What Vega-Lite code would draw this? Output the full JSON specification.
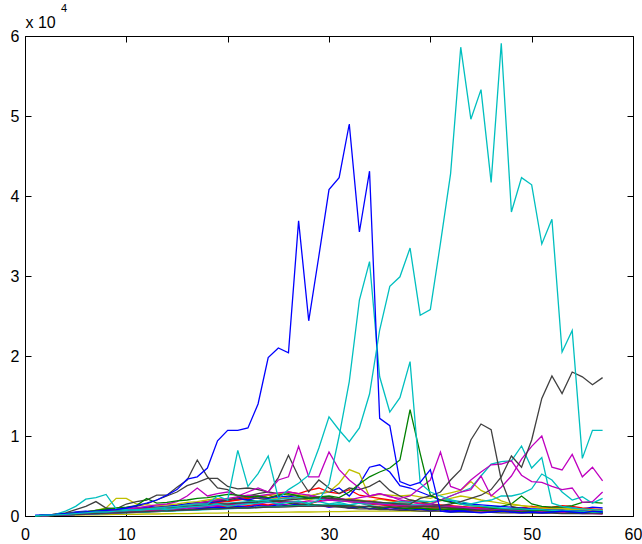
{
"$schema":"https://vega.github.io/schema/vega-lite/v6.json",
"width":608,"height":480,
"autosize":{"type":"none"},
"padding":{"left":25,"top":36,"right":9,"bottom":28},
"background":"white",
"title":{"text":"4","anchor":"start","frame":"group","dx":36,"offset":0,"fontSize":11,"fontWeight":"normal","font":"Liberation Sans","color":"#000"},
"config":{
"view":{"stroke":"#000","strokeWidth":1},
"axis":{"grid":false,"domainColor":"#000","tickColor":"#000","labelColor":"#000","labelFont":"Liberation Sans","labelFontSize":16,"titleFont":"Liberation Sans","domainWidth":1,"tickWidth":1,"labelFlush":false}
},
"data":{"values":[
{"s":"Y3","x":1,"y":0},{"s":"Y3","x":2,"y":50},{"s":"Y3","x":3,"y":80},{"s":"Y3","x":4,"y":100},{"s":"Y3","x":5,"y":120},{"s":"Y3","x":6,"y":150},{"s":"Y3","x":7,"y":150},{"s":"Y3","x":8,"y":180},{"s":"Y3","x":9,"y":200},{"s":"Y3","x":10,"y":200},{"s":"Y3","x":11,"y":220},{"s":"Y3","x":12,"y":250},{"s":"Y3","x":13,"y":250},{"s":"Y3","x":14,"y":280},{"s":"Y3","x":15,"y":300},{"s":"Y3","x":16,"y":300},{"s":"Y3","x":17,"y":320},{"s":"Y3","x":18,"y":350},{"s":"Y3","x":19,"y":350},{"s":"Y3","x":20,"y":380},{"s":"Y3","x":21,"y":400},{"s":"Y3","x":22,"y":400},{"s":"Y3","x":23,"y":420},{"s":"Y3","x":24,"y":450},{"s":"Y3","x":25,"y":450},{"s":"Y3","x":26,"y":480},{"s":"Y3","x":27,"y":500},{"s":"Y3","x":28,"y":500},{"s":"Y3","x":29,"y":520},{"s":"Y3","x":30,"y":550},{"s":"Y3","x":31,"y":550},{"s":"Y3","x":32,"y":580},{"s":"Y3","x":33,"y":600},{"s":"Y3","x":34,"y":600},{"s":"Y3","x":35,"y":600},{"s":"Y3","x":36,"y":620},{"s":"Y3","x":37,"y":600},{"s":"Y3","x":38,"y":620},{"s":"Y3","x":39,"y":600},{"s":"Y3","x":40,"y":600},{"s":"Y3","x":41,"y":580},{"s":"Y3","x":42,"y":600},{"s":"Y3","x":43,"y":580},{"s":"Y3","x":44,"y":560},{"s":"Y3","x":45,"y":550},{"s":"Y3","x":46,"y":550},{"s":"Y3","x":47,"y":520},{"s":"Y3","x":48,"y":500},{"s":"Y3","x":49,"y":500},{"s":"Y3","x":50,"y":480},{"s":"Y3","x":51,"y":460},{"s":"Y3","x":52,"y":450},{"s":"Y3","x":53,"y":440},{"s":"Y3","x":54,"y":420},{"s":"Y3","x":55,"y":400},{"s":"Y3","x":56,"y":400},{"s":"Y3","x":57,"y":380},
{"s":"M4","x":1,"y":0},{"s":"M4","x":2,"y":80},{"s":"M4","x":3,"y":150},{"s":"M4","x":4,"y":200},{"s":"M4","x":5,"y":250},{"s":"M4","x":6,"y":300},{"s":"M4","x":7,"y":350},{"s":"M4","x":8,"y":400},{"s":"M4","x":9,"y":450},{"s":"M4","x":10,"y":500},{"s":"M4","x":11,"y":550},{"s":"M4","x":12,"y":600},{"s":"M4","x":13,"y":650},{"s":"M4","x":14,"y":700},{"s":"M4","x":15,"y":800},{"s":"M4","x":16,"y":900},{"s":"M4","x":17,"y":1100},{"s":"M4","x":18,"y":1000},{"s":"M4","x":19,"y":1200},{"s":"M4","x":20,"y":1100},{"s":"M4","x":21,"y":1300},{"s":"M4","x":22,"y":1200},{"s":"M4","x":23,"y":1400},{"s":"M4","x":24,"y":1300},{"s":"M4","x":25,"y":1500},{"s":"M4","x":26,"y":1400},{"s":"M4","x":27,"y":1300},{"s":"M4","x":28,"y":1200},{"s":"M4","x":29,"y":1300},{"s":"M4","x":30,"y":1100},{"s":"M4","x":31,"y":1200},{"s":"M4","x":32,"y":1000},{"s":"M4","x":33,"y":1100},{"s":"M4","x":34,"y":900},{"s":"M4","x":35,"y":1000},{"s":"M4","x":36,"y":900},{"s":"M4","x":37,"y":800},{"s":"M4","x":38,"y":900},{"s":"M4","x":39,"y":800},{"s":"M4","x":40,"y":700},{"s":"M4","x":41,"y":800},{"s":"M4","x":42,"y":700},{"s":"M4","x":43,"y":600},{"s":"M4","x":44,"y":700},{"s":"M4","x":45,"y":600},{"s":"M4","x":46,"y":500},{"s":"M4","x":47,"y":600},{"s":"M4","x":48,"y":500},{"s":"M4","x":49,"y":400},{"s":"M4","x":50,"y":500},{"s":"M4","x":51,"y":400},{"s":"M4","x":52,"y":400},{"s":"M4","x":53,"y":350},{"s":"M4","x":54,"y":400},{"s":"M4","x":55,"y":300},{"s":"M4","x":56,"y":300},{"s":"M4","x":57,"y":250},
{"s":"C5","x":1,"y":0},{"s":"C5","x":2,"y":60},{"s":"C5","x":3,"y":120},{"s":"C5","x":4,"y":180},{"s":"C5","x":5,"y":250},{"s":"C5","x":6,"y":300},{"s":"C5","x":7,"y":350},{"s":"C5","x":8,"y":450},{"s":"C5","x":9,"y":500},{"s":"C5","x":10,"y":600},{"s":"C5","x":11,"y":650},{"s":"C5","x":12,"y":700},{"s":"C5","x":13,"y":800},{"s":"C5","x":14,"y":900},{"s":"C5","x":15,"y":1000},{"s":"C5","x":16,"y":1100},{"s":"C5","x":17,"y":1000},{"s":"C5","x":18,"y":1200},{"s":"C5","x":19,"y":1400},{"s":"C5","x":20,"y":1300},{"s":"C5","x":21,"y":1500},{"s":"C5","x":22,"y":1700},{"s":"C5","x":23,"y":1600},{"s":"C5","x":24,"y":1800},{"s":"C5","x":25,"y":2000},{"s":"C5","x":26,"y":1700},{"s":"C5","x":27,"y":1900},{"s":"C5","x":28,"y":1600},{"s":"C5","x":29,"y":1800},{"s":"C5","x":30,"y":1500},{"s":"C5","x":31,"y":1700},{"s":"C5","x":32,"y":1400},{"s":"C5","x":33,"y":1600},{"s":"C5","x":34,"y":1300},{"s":"C5","x":35,"y":1500},{"s":"C5","x":36,"y":1200},{"s":"C5","x":37,"y":1400},{"s":"C5","x":38,"y":1100},{"s":"C5","x":39,"y":1300},{"s":"C5","x":40,"y":1000},{"s":"C5","x":41,"y":1200},{"s":"C5","x":42,"y":1000},{"s":"C5","x":43,"y":1100},{"s":"C5","x":44,"y":900},{"s":"C5","x":45,"y":1000},{"s":"C5","x":46,"y":800},{"s":"C5","x":47,"y":900},{"s":"C5","x":48,"y":700},{"s":"C5","x":49,"y":800},{"s":"C5","x":50,"y":700},{"s":"C5","x":51,"y":600},{"s":"C5","x":52,"y":700},{"s":"C5","x":53,"y":600},{"s":"C5","x":54,"y":500},{"s":"C5","x":55,"y":600},{"s":"C5","x":56,"y":500},{"s":"C5","x":57,"y":500},
{"s":"R3","x":1,"y":0},{"s":"R3","x":2,"y":40},{"s":"R3","x":3,"y":80},{"s":"R3","x":4,"y":120},{"s":"R3","x":5,"y":160},{"s":"R3","x":6,"y":200},{"s":"R3","x":7,"y":250},{"s":"R3","x":8,"y":300},{"s":"R3","x":9,"y":350},{"s":"R3","x":10,"y":400},{"s":"R3","x":11,"y":450},{"s":"R3","x":12,"y":500},{"s":"R3","x":13,"y":550},{"s":"R3","x":14,"y":600},{"s":"R3","x":15,"y":700},{"s":"R3","x":16,"y":800},{"s":"R3","x":17,"y":900},{"s":"R3","x":18,"y":1000},{"s":"R3","x":19,"y":1100},{"s":"R3","x":20,"y":1200},{"s":"R3","x":21,"y":1100},{"s":"R3","x":22,"y":1300},{"s":"R3","x":23,"y":1500},{"s":"R3","x":24,"y":1400},{"s":"R3","x":25,"y":1600},{"s":"R3","x":26,"y":1800},{"s":"R3","x":27,"y":1700},{"s":"R3","x":28,"y":1500},{"s":"R3","x":29,"y":1900},{"s":"R3","x":30,"y":2200},{"s":"R3","x":31,"y":2000},{"s":"R3","x":32,"y":1800},{"s":"R3","x":33,"y":1600},{"s":"R3","x":34,"y":1500},{"s":"R3","x":35,"y":1400},{"s":"R3","x":36,"y":1300},{"s":"R3","x":37,"y":1200},{"s":"R3","x":38,"y":1100},{"s":"R3","x":39,"y":1000},{"s":"R3","x":40,"y":900},{"s":"R3","x":41,"y":900},{"s":"R3","x":42,"y":800},{"s":"R3","x":43,"y":800},{"s":"R3","x":44,"y":700},{"s":"R3","x":45,"y":700},{"s":"R3","x":46,"y":650},{"s":"R3","x":47,"y":600},{"s":"R3","x":48,"y":600},{"s":"R3","x":49,"y":550},{"s":"R3","x":50,"y":500},{"s":"R3","x":51,"y":500},{"s":"R3","x":52,"y":450},{"s":"R3","x":53,"y":450},{"s":"R3","x":54,"y":400},{"s":"R3","x":55,"y":400},{"s":"R3","x":56,"y":350},{"s":"R3","x":57,"y":350},
{"s":"G3","x":1,"y":0},{"s":"G3","x":2,"y":50},{"s":"G3","x":3,"y":100},{"s":"G3","x":4,"y":150},{"s":"G3","x":5,"y":200},{"s":"G3","x":6,"y":300},{"s":"G3","x":7,"y":350},{"s":"G3","x":8,"y":450},{"s":"G3","x":9,"y":500},{"s":"G3","x":10,"y":700},{"s":"G3","x":11,"y":800},{"s":"G3","x":12,"y":900},{"s":"G3","x":13,"y":1000},{"s":"G3","x":14,"y":1200},{"s":"G3","x":15,"y":1300},{"s":"G3","x":16,"y":1500},{"s":"G3","x":17,"y":1600},{"s":"G3","x":18,"y":1800},{"s":"G3","x":19,"y":2000},{"s":"G3","x":20,"y":1900},{"s":"G3","x":21,"y":2100},{"s":"G3","x":22,"y":2000},{"s":"G3","x":23,"y":1800},{"s":"G3","x":24,"y":1700},{"s":"G3","x":25,"y":1900},{"s":"G3","x":26,"y":1600},{"s":"G3","x":27,"y":1400},{"s":"G3","x":28,"y":1500},{"s":"G3","x":29,"y":1300},{"s":"G3","x":30,"y":1400},{"s":"G3","x":31,"y":1200},{"s":"G3","x":32,"y":1300},{"s":"G3","x":33,"y":1100},{"s":"G3","x":34,"y":1200},{"s":"G3","x":35,"y":1000},{"s":"G3","x":36,"y":1100},{"s":"G3","x":37,"y":900},{"s":"G3","x":38,"y":1000},{"s":"G3","x":39,"y":900},{"s":"G3","x":40,"y":800},{"s":"G3","x":41,"y":900},{"s":"G3","x":42,"y":800},{"s":"G3","x":43,"y":700},{"s":"G3","x":44,"y":800},{"s":"G3","x":45,"y":700},{"s":"G3","x":46,"y":600},{"s":"G3","x":47,"y":700},{"s":"G3","x":48,"y":600},{"s":"G3","x":49,"y":500},{"s":"G3","x":50,"y":600},{"s":"G3","x":51,"y":500},{"s":"G3","x":52,"y":500},{"s":"G3","x":53,"y":400},{"s":"G3","x":54,"y":500},{"s":"G3","x":55,"y":400},{"s":"G3","x":56,"y":400},{"s":"G3","x":57,"y":350},
{"s":"B3","x":1,"y":0},{"s":"B3","x":2,"y":50},{"s":"B3","x":3,"y":100},{"s":"B3","x":4,"y":150},{"s":"B3","x":5,"y":200},{"s":"B3","x":6,"y":250},{"s":"B3","x":7,"y":300},{"s":"B3","x":8,"y":350},{"s":"B3","x":9,"y":400},{"s":"B3","x":10,"y":450},{"s":"B3","x":11,"y":500},{"s":"B3","x":12,"y":550},{"s":"B3","x":13,"y":600},{"s":"B3","x":14,"y":650},{"s":"B3","x":15,"y":700},{"s":"B3","x":16,"y":800},{"s":"B3","x":17,"y":900},{"s":"B3","x":18,"y":1000},{"s":"B3","x":19,"y":1100},{"s":"B3","x":20,"y":1000},{"s":"B3","x":21,"y":1200},{"s":"B3","x":22,"y":1100},{"s":"B3","x":23,"y":1300},{"s":"B3","x":24,"y":1200},{"s":"B3","x":25,"y":1400},{"s":"B3","x":26,"y":1300},{"s":"B3","x":27,"y":1500},{"s":"B3","x":28,"y":1200},{"s":"B3","x":29,"y":1400},{"s":"B3","x":30,"y":1100},{"s":"B3","x":31,"y":1300},{"s":"B3","x":32,"y":1000},{"s":"B3","x":33,"y":1200},{"s":"B3","x":34,"y":900},{"s":"B3","x":35,"y":1100},{"s":"B3","x":36,"y":800},{"s":"B3","x":37,"y":1000},{"s":"B3","x":38,"y":700},{"s":"B3","x":39,"y":900},{"s":"B3","x":40,"y":600},{"s":"B3","x":41,"y":800},{"s":"B3","x":42,"y":600},{"s":"B3","x":43,"y":700},{"s":"B3","x":44,"y":800},{"s":"B3","x":45,"y":900},{"s":"B3","x":46,"y":1000},{"s":"B3","x":47,"y":900},{"s":"B3","x":48,"y":800},{"s":"B3","x":49,"y":700},{"s":"B3","x":50,"y":800},{"s":"B3","x":51,"y":700},{"s":"B3","x":52,"y":900},{"s":"B3","x":53,"y":1100},{"s":"B3","x":54,"y":1000},{"s":"B3","x":55,"y":900},{"s":"B3","x":56,"y":1100},{"s":"B3","x":57,"y":1000},
{"s":"Y2","x":1,"y":0},{"s":"Y2","x":2,"y":50},{"s":"Y2","x":3,"y":100},{"s":"Y2","x":4,"y":150},{"s":"Y2","x":5,"y":200},{"s":"Y2","x":6,"y":300},{"s":"Y2","x":7,"y":400},{"s":"Y2","x":8,"y":500},{"s":"Y2","x":9,"y":600},{"s":"Y2","x":10,"y":700},{"s":"Y2","x":11,"y":800},{"s":"Y2","x":12,"y":900},{"s":"Y2","x":13,"y":1000},{"s":"Y2","x":14,"y":1100},{"s":"Y2","x":15,"y":1200},{"s":"Y2","x":16,"y":1400},{"s":"Y2","x":17,"y":1500},{"s":"Y2","x":18,"y":1700},{"s":"Y2","x":19,"y":1900},{"s":"Y2","x":20,"y":2100},{"s":"Y2","x":21,"y":2000},{"s":"Y2","x":22,"y":2200},{"s":"Y2","x":23,"y":2500},{"s":"Y2","x":24,"y":2300},{"s":"Y2","x":25,"y":2100},{"s":"Y2","x":26,"y":2400},{"s":"Y2","x":27,"y":2200},{"s":"Y2","x":28,"y":2000},{"s":"Y2","x":29,"y":2300},{"s":"Y2","x":30,"y":2100},{"s":"Y2","x":31,"y":1900},{"s":"Y2","x":32,"y":2200},{"s":"Y2","x":33,"y":2000},{"s":"Y2","x":34,"y":1800},{"s":"Y2","x":35,"y":2100},{"s":"Y2","x":36,"y":1900},{"s":"Y2","x":37,"y":1700},{"s":"Y2","x":38,"y":2000},{"s":"Y2","x":39,"y":1800},{"s":"Y2","x":40,"y":1600},{"s":"Y2","x":41,"y":1900},{"s":"Y2","x":42,"y":2200},{"s":"Y2","x":43,"y":2500},{"s":"Y2","x":44,"y":2300},{"s":"Y2","x":45,"y":2000},{"s":"Y2","x":46,"y":1800},{"s":"Y2","x":47,"y":1600},{"s":"Y2","x":48,"y":1400},{"s":"Y2","x":49,"y":1300},{"s":"Y2","x":50,"y":1200},{"s":"Y2","x":51,"y":1100},{"s":"Y2","x":52,"y":1000},{"s":"Y2","x":53,"y":1000},{"s":"Y2","x":54,"y":900},{"s":"Y2","x":55,"y":900},{"s":"Y2","x":56,"y":800},{"s":"Y2","x":57,"y":800},
{"s":"R2","x":1,"y":0},{"s":"R2","x":2,"y":50},{"s":"R2","x":3,"y":100},{"s":"R2","x":4,"y":150},{"s":"R2","x":5,"y":200},{"s":"R2","x":6,"y":250},{"s":"R2","x":7,"y":300},{"s":"R2","x":8,"y":350},{"s":"R2","x":9,"y":400},{"s":"R2","x":10,"y":500},{"s":"R2","x":11,"y":600},{"s":"R2","x":12,"y":700},{"s":"R2","x":13,"y":800},{"s":"R2","x":14,"y":900},{"s":"R2","x":15,"y":1000},{"s":"R2","x":16,"y":1100},{"s":"R2","x":17,"y":1300},{"s":"R2","x":18,"y":1500},{"s":"R2","x":19,"y":1700},{"s":"R2","x":20,"y":1900},{"s":"R2","x":21,"y":2100},{"s":"R2","x":22,"y":2400},{"s":"R2","x":23,"y":2200},{"s":"R2","x":24,"y":2600},{"s":"R2","x":25,"y":2300},{"s":"R2","x":26,"y":2100},{"s":"R2","x":27,"y":2400},{"s":"R2","x":28,"y":2600},{"s":"R2","x":29,"y":2300},{"s":"R2","x":30,"y":2000},{"s":"R2","x":31,"y":2200},{"s":"R2","x":32,"y":1900},{"s":"R2","x":33,"y":1700},{"s":"R2","x":34,"y":1900},{"s":"R2","x":35,"y":1600},{"s":"R2","x":36,"y":1500},{"s":"R2","x":37,"y":1400},{"s":"R2","x":38,"y":1300},{"s":"R2","x":39,"y":1200},{"s":"R2","x":40,"y":1100},{"s":"R2","x":41,"y":1100},{"s":"R2","x":42,"y":1000},{"s":"R2","x":43,"y":1000},{"s":"R2","x":44,"y":900},{"s":"R2","x":45,"y":900},{"s":"R2","x":46,"y":800},{"s":"R2","x":47,"y":800},{"s":"R2","x":48,"y":900},{"s":"R2","x":49,"y":1000},{"s":"R2","x":50,"y":1200},{"s":"R2","x":51,"y":1000},{"s":"R2","x":52,"y":1100},{"s":"R2","x":53,"y":1300},{"s":"R2","x":54,"y":1200},{"s":"R2","x":55,"y":1000},{"s":"R2","x":56,"y":900},{"s":"R2","x":57,"y":800},
{"s":"K3","x":1,"y":0},{"s":"K3","x":2,"y":100},{"s":"K3","x":3,"y":200},{"s":"K3","x":4,"y":300},{"s":"K3","x":5,"y":400},{"s":"K3","x":6,"y":500},{"s":"K3","x":7,"y":700},{"s":"K3","x":8,"y":800},{"s":"K3","x":9,"y":900},{"s":"K3","x":10,"y":1000},{"s":"K3","x":11,"y":1200},{"s":"K3","x":12,"y":1500},{"s":"K3","x":13,"y":2000},{"s":"K3","x":14,"y":2500},{"s":"K3","x":15,"y":3000},{"s":"K3","x":16,"y":3800},{"s":"K3","x":17,"y":4200},{"s":"K3","x":18,"y":4700},{"s":"K3","x":19,"y":4700},{"s":"K3","x":20,"y":3700},{"s":"K3","x":21,"y":3400},{"s":"K3","x":22,"y":3500},{"s":"K3","x":23,"y":3300},{"s":"K3","x":24,"y":3000},{"s":"K3","x":25,"y":2800},{"s":"K3","x":26,"y":2600},{"s":"K3","x":27,"y":2500},{"s":"K3","x":28,"y":2300},{"s":"K3","x":29,"y":2200},{"s":"K3","x":30,"y":2400},{"s":"K3","x":31,"y":2100},{"s":"K3","x":32,"y":2000},{"s":"K3","x":33,"y":1900},{"s":"K3","x":34,"y":1800},{"s":"K3","x":35,"y":1700},{"s":"K3","x":36,"y":1600},{"s":"K3","x":37,"y":1500},{"s":"K3","x":38,"y":1400},{"s":"K3","x":39,"y":1300},{"s":"K3","x":40,"y":1200},{"s":"K3","x":41,"y":1100},{"s":"K3","x":42,"y":1000},{"s":"K3","x":43,"y":950},{"s":"K3","x":44,"y":900},{"s":"K3","x":45,"y":850},{"s":"K3","x":46,"y":800},{"s":"K3","x":47,"y":750},{"s":"K3","x":48,"y":700},{"s":"K3","x":49,"y":650},{"s":"K3","x":50,"y":600},{"s":"K3","x":51,"y":600},{"s":"K3","x":52,"y":550},{"s":"K3","x":53,"y":500},{"s":"K3","x":54,"y":500},{"s":"K3","x":55,"y":450},{"s":"K3","x":56,"y":450},{"s":"K3","x":57,"y":400},
{"s":"G2","x":1,"y":0},{"s":"G2","x":2,"y":50},{"s":"G2","x":3,"y":100},{"s":"G2","x":4,"y":150},{"s":"G2","x":5,"y":200},{"s":"G2","x":6,"y":250},{"s":"G2","x":7,"y":300},{"s":"G2","x":8,"y":350},{"s":"G2","x":9,"y":400},{"s":"G2","x":10,"y":450},{"s":"G2","x":11,"y":500},{"s":"G2","x":12,"y":550},{"s":"G2","x":13,"y":600},{"s":"G2","x":14,"y":650},{"s":"G2","x":15,"y":700},{"s":"G2","x":16,"y":750},{"s":"G2","x":17,"y":800},{"s":"G2","x":18,"y":850},{"s":"G2","x":19,"y":900},{"s":"G2","x":20,"y":950},{"s":"G2","x":21,"y":1000},{"s":"G2","x":22,"y":1050},{"s":"G2","x":23,"y":1100},{"s":"G2","x":24,"y":1150},{"s":"G2","x":25,"y":1200},{"s":"G2","x":26,"y":1250},{"s":"G2","x":27,"y":1300},{"s":"G2","x":28,"y":1350},{"s":"G2","x":29,"y":1400},{"s":"G2","x":30,"y":1300},{"s":"G2","x":31,"y":1200},{"s":"G2","x":32,"y":1300},{"s":"G2","x":33,"y":1100},{"s":"G2","x":34,"y":1200},{"s":"G2","x":35,"y":1000},{"s":"G2","x":36,"y":1100},{"s":"G2","x":37,"y":1000},{"s":"G2","x":38,"y":900},{"s":"G2","x":39,"y":1000},{"s":"G2","x":40,"y":900},{"s":"G2","x":41,"y":800},{"s":"G2","x":42,"y":900},{"s":"G2","x":43,"y":800},{"s":"G2","x":44,"y":900},{"s":"G2","x":45,"y":1000},{"s":"G2","x":46,"y":1100},{"s":"G2","x":47,"y":1200},{"s":"G2","x":48,"y":1500},{"s":"G2","x":49,"y":2500},{"s":"G2","x":50,"y":1500},{"s":"G2","x":51,"y":1200},{"s":"G2","x":52,"y":1100},{"s":"G2","x":53,"y":1100},{"s":"G2","x":54,"y":1300},{"s":"G2","x":55,"y":1700},{"s":"G2","x":56,"y":1700},{"s":"G2","x":57,"y":1600},
{"s":"R1","x":1,"y":0},{"s":"R1","x":2,"y":50},{"s":"R1","x":3,"y":100},{"s":"R1","x":4,"y":200},{"s":"R1","x":5,"y":300},{"s":"R1","x":6,"y":400},{"s":"R1","x":7,"y":500},{"s":"R1","x":8,"y":600},{"s":"R1","x":9,"y":700},{"s":"R1","x":10,"y":800},{"s":"R1","x":11,"y":900},{"s":"R1","x":12,"y":1000},{"s":"R1","x":13,"y":1100},{"s":"R1","x":14,"y":1200},{"s":"R1","x":15,"y":1300},{"s":"R1","x":16,"y":1400},{"s":"R1","x":17,"y":1500},{"s":"R1","x":18,"y":1600},{"s":"R1","x":19,"y":1700},{"s":"R1","x":20,"y":1800},{"s":"R1","x":21,"y":2000},{"s":"R1","x":22,"y":2200},{"s":"R1","x":23,"y":2400},{"s":"R1","x":24,"y":2200},{"s":"R1","x":25,"y":2600},{"s":"R1","x":26,"y":3000},{"s":"R1","x":27,"y":2800},{"s":"R1","x":28,"y":3200},{"s":"R1","x":29,"y":3500},{"s":"R1","x":30,"y":3000},{"s":"R1","x":31,"y":2800},{"s":"R1","x":32,"y":3300},{"s":"R1","x":33,"y":2600},{"s":"R1","x":34,"y":2400},{"s":"R1","x":35,"y":2200},{"s":"R1","x":36,"y":2000},{"s":"R1","x":37,"y":1800},{"s":"R1","x":38,"y":1700},{"s":"R1","x":39,"y":1600},{"s":"R1","x":40,"y":1500},{"s":"R1","x":41,"y":1400},{"s":"R1","x":42,"y":1300},{"s":"R1","x":43,"y":1200},{"s":"R1","x":44,"y":1100},{"s":"R1","x":45,"y":1000},{"s":"R1","x":46,"y":1000},{"s":"R1","x":47,"y":900},{"s":"R1","x":48,"y":900},{"s":"R1","x":49,"y":800},{"s":"R1","x":50,"y":800},{"s":"R1","x":51,"y":700},{"s":"R1","x":52,"y":700},{"s":"R1","x":53,"y":700},{"s":"R1","x":54,"y":600},{"s":"R1","x":55,"y":600},{"s":"R1","x":56,"y":600},{"s":"R1","x":57,"y":500},
{"s":"B2","x":1,"y":0},{"s":"B2","x":2,"y":100},{"s":"B2","x":3,"y":200},{"s":"B2","x":4,"y":300},{"s":"B2","x":5,"y":500},{"s":"B2","x":6,"y":600},{"s":"B2","x":7,"y":500},{"s":"B2","x":8,"y":700},{"s":"B2","x":9,"y":800},{"s":"B2","x":10,"y":900},{"s":"B2","x":11,"y":1000},{"s":"B2","x":12,"y":1100},{"s":"B2","x":13,"y":1300},{"s":"B2","x":14,"y":1200},{"s":"B2","x":15,"y":1400},{"s":"B2","x":16,"y":1500},{"s":"B2","x":17,"y":1700},{"s":"B2","x":18,"y":1600},{"s":"B2","x":19,"y":1800},{"s":"B2","x":20,"y":2000},{"s":"B2","x":21,"y":2200},{"s":"B2","x":22,"y":2000},{"s":"B2","x":23,"y":2300},{"s":"B2","x":24,"y":2200},{"s":"B2","x":25,"y":2500},{"s":"B2","x":26,"y":2400},{"s":"B2","x":27,"y":2600},{"s":"B2","x":28,"y":2400},{"s":"B2","x":29,"y":2800},{"s":"B2","x":30,"y":3000},{"s":"B2","x":31,"y":3500},{"s":"B2","x":32,"y":2500},{"s":"B2","x":33,"y":4000},{"s":"B2","x":34,"y":6100},{"s":"B2","x":35,"y":6400},{"s":"B2","x":36,"y":5500},{"s":"B2","x":37,"y":3800},{"s":"B2","x":38,"y":3500},{"s":"B2","x":39,"y":3000},{"s":"B2","x":40,"y":2500},{"s":"B2","x":41,"y":2000},{"s":"B2","x":42,"y":1800},{"s":"B2","x":43,"y":1600},{"s":"B2","x":44,"y":1500},{"s":"B2","x":45,"y":1400},{"s":"B2","x":46,"y":1300},{"s":"B2","x":47,"y":1200},{"s":"B2","x":48,"y":1100},{"s":"B2","x":49,"y":1000},{"s":"B2","x":50,"y":900},{"s":"B2","x":51,"y":900},{"s":"B2","x":52,"y":800},{"s":"B2","x":53,"y":800},{"s":"B2","x":54,"y":700},{"s":"B2","x":55,"y":700},{"s":"B2","x":56,"y":600},{"s":"B2","x":57,"y":600},
{"s":"Y1","x":1,"y":0},{"s":"Y1","x":2,"y":100},{"s":"Y1","x":3,"y":200},{"s":"Y1","x":4,"y":300},{"s":"Y1","x":5,"y":400},{"s":"Y1","x":6,"y":500},{"s":"Y1","x":7,"y":700},{"s":"Y1","x":8,"y":1000},{"s":"Y1","x":9,"y":2200},{"s":"Y1","x":10,"y":2200},{"s":"Y1","x":11,"y":1500},{"s":"Y1","x":12,"y":1400},{"s":"Y1","x":13,"y":1300},{"s":"Y1","x":14,"y":1400},{"s":"Y1","x":15,"y":1500},{"s":"Y1","x":16,"y":1700},{"s":"Y1","x":17,"y":1800},{"s":"Y1","x":18,"y":2000},{"s":"Y1","x":19,"y":2200},{"s":"Y1","x":20,"y":2000},{"s":"Y1","x":21,"y":2300},{"s":"Y1","x":22,"y":2500},{"s":"Y1","x":23,"y":2400},{"s":"Y1","x":24,"y":2600},{"s":"Y1","x":25,"y":2800},{"s":"Y1","x":26,"y":2700},{"s":"Y1","x":27,"y":2600},{"s":"Y1","x":28,"y":2500},{"s":"Y1","x":29,"y":2800},{"s":"Y1","x":30,"y":3000},{"s":"Y1","x":31,"y":4100},{"s":"Y1","x":32,"y":5800},{"s":"Y1","x":33,"y":5300},{"s":"Y1","x":34,"y":2400},{"s":"Y1","x":35,"y":2700},{"s":"Y1","x":36,"y":2600},{"s":"Y1","x":37,"y":2500},{"s":"Y1","x":38,"y":2600},{"s":"Y1","x":39,"y":2400},{"s":"Y1","x":40,"y":2200},{"s":"Y1","x":41,"y":2600},{"s":"Y1","x":42,"y":2900},{"s":"Y1","x":43,"y":3200},{"s":"Y1","x":44,"y":4300},{"s":"Y1","x":45,"y":3200},{"s":"Y1","x":46,"y":2600},{"s":"Y1","x":47,"y":1900},{"s":"Y1","x":48,"y":1500},{"s":"Y1","x":49,"y":1300},{"s":"Y1","x":50,"y":1100},{"s":"Y1","x":51,"y":1000},{"s":"Y1","x":52,"y":900},{"s":"Y1","x":53,"y":900},{"s":"Y1","x":54,"y":800},{"s":"Y1","x":55,"y":800},{"s":"Y1","x":56,"y":700},{"s":"Y1","x":57,"y":700},
{"s":"K4","x":1,"y":0},{"s":"K4","x":2,"y":60},{"s":"K4","x":3,"y":120},{"s":"K4","x":4,"y":180},{"s":"K4","x":5,"y":240},{"s":"K4","x":6,"y":300},{"s":"K4","x":7,"y":400},{"s":"K4","x":8,"y":500},{"s":"K4","x":9,"y":600},{"s":"K4","x":10,"y":700},{"s":"K4","x":11,"y":800},{"s":"K4","x":12,"y":900},{"s":"K4","x":13,"y":1000},{"s":"K4","x":14,"y":1100},{"s":"K4","x":15,"y":1200},{"s":"K4","x":16,"y":1400},{"s":"K4","x":17,"y":1600},{"s":"K4","x":18,"y":1800},{"s":"K4","x":19,"y":1900},{"s":"K4","x":20,"y":2000},{"s":"K4","x":21,"y":2300},{"s":"K4","x":22,"y":2500},{"s":"K4","x":23,"y":2800},{"s":"K4","x":24,"y":3000},{"s":"K4","x":25,"y":4800},{"s":"K4","x":26,"y":7600},{"s":"K4","x":27,"y":4900},{"s":"K4","x":28,"y":3000},{"s":"K4","x":29,"y":4500},{"s":"K4","x":30,"y":3500},{"s":"K4","x":31,"y":2800},{"s":"K4","x":32,"y":3500},{"s":"K4","x":33,"y":3300},{"s":"K4","x":34,"y":3700},{"s":"K4","x":35,"y":4400},{"s":"K4","x":36,"y":3200},{"s":"K4","x":37,"y":2500},{"s":"K4","x":38,"y":2000},{"s":"K4","x":39,"y":1800},{"s":"K4","x":40,"y":1500},{"s":"K4","x":41,"y":1300},{"s":"K4","x":42,"y":1200},{"s":"K4","x":43,"y":1100},{"s":"K4","x":44,"y":1000},{"s":"K4","x":45,"y":900},{"s":"K4","x":46,"y":900},{"s":"K4","x":47,"y":800},{"s":"K4","x":48,"y":800},{"s":"K4","x":49,"y":700},{"s":"K4","x":50,"y":700},{"s":"K4","x":51,"y":600},{"s":"K4","x":52,"y":600},{"s":"K4","x":53,"y":500},{"s":"K4","x":54,"y":500},{"s":"K4","x":55,"y":500},{"s":"K4","x":56,"y":400},{"s":"K4","x":57,"y":400},
{"s":"K2","x":1,"y":0},{"s":"K2","x":2,"y":100},{"s":"K2","x":3,"y":200},{"s":"K2","x":4,"y":400},{"s":"K2","x":5,"y":800},{"s":"K2","x":6,"y":1200},{"s":"K2","x":7,"y":1800},{"s":"K2","x":8,"y":1000},{"s":"K2","x":9,"y":900},{"s":"K2","x":10,"y":1500},{"s":"K2","x":11,"y":1800},{"s":"K2","x":12,"y":2000},{"s":"K2","x":13,"y":2600},{"s":"K2","x":14,"y":2600},{"s":"K2","x":15,"y":3600},{"s":"K2","x":16,"y":4500},{"s":"K2","x":17,"y":7000},{"s":"K2","x":18,"y":4900},{"s":"K2","x":19,"y":3500},{"s":"K2","x":20,"y":3300},{"s":"K2","x":21,"y":2500},{"s":"K2","x":22,"y":2400},{"s":"K2","x":23,"y":2200},{"s":"K2","x":24,"y":2000},{"s":"K2","x":25,"y":1800},{"s":"K2","x":26,"y":1700},{"s":"K2","x":27,"y":1500},{"s":"K2","x":28,"y":1400},{"s":"K2","x":29,"y":1300},{"s":"K2","x":30,"y":1200},{"s":"K2","x":31,"y":1100},{"s":"K2","x":32,"y":1000},{"s":"K2","x":33,"y":900},{"s":"K2","x":34,"y":900},{"s":"K2","x":35,"y":800},{"s":"K2","x":36,"y":800},{"s":"K2","x":37,"y":700},{"s":"K2","x":38,"y":700},{"s":"K2","x":39,"y":600},{"s":"K2","x":40,"y":600},{"s":"K2","x":41,"y":600},{"s":"K2","x":42,"y":500},{"s":"K2","x":43,"y":500},{"s":"K2","x":44,"y":500},{"s":"K2","x":45,"y":450},{"s":"K2","x":46,"y":450},{"s":"K2","x":47,"y":400},{"s":"K2","x":48,"y":400},{"s":"K2","x":49,"y":400},{"s":"K2","x":50,"y":350},{"s":"K2","x":51,"y":350},{"s":"K2","x":52,"y":350},{"s":"K2","x":53,"y":300},{"s":"K2","x":54,"y":300},{"s":"K2","x":55,"y":300},{"s":"K2","x":56,"y":300},{"s":"K2","x":57,"y":300},
{"s":"M1","x":1,"y":0},{"s":"M1","x":2,"y":100},{"s":"M1","x":3,"y":200},{"s":"M1","x":4,"y":200},{"s":"M1","x":5,"y":300},{"s":"M1","x":6,"y":400},{"s":"M1","x":7,"y":500},{"s":"M1","x":8,"y":600},{"s":"M1","x":9,"y":800},{"s":"M1","x":10,"y":900},{"s":"M1","x":11,"y":1000},{"s":"M1","x":12,"y":1200},{"s":"M1","x":13,"y":1400},{"s":"M1","x":14,"y":1500},{"s":"M1","x":15,"y":1800},{"s":"M1","x":16,"y":2500},{"s":"M1","x":17,"y":3500},{"s":"M1","x":18,"y":2500},{"s":"M1","x":19,"y":2800},{"s":"M1","x":20,"y":3000},{"s":"M1","x":21,"y":2500},{"s":"M1","x":22,"y":3000},{"s":"M1","x":23,"y":3500},{"s":"M1","x":24,"y":3000},{"s":"M1","x":25,"y":4500},{"s":"M1","x":26,"y":4900},{"s":"M1","x":27,"y":8700},{"s":"M1","x":28,"y":4900},{"s":"M1","x":29,"y":4900},{"s":"M1","x":30,"y":8000},{"s":"M1","x":31,"y":5800},{"s":"M1","x":32,"y":4500},{"s":"M1","x":33,"y":3500},{"s":"M1","x":34,"y":2500},{"s":"M1","x":35,"y":2800},{"s":"M1","x":36,"y":2500},{"s":"M1","x":37,"y":2000},{"s":"M1","x":38,"y":1800},{"s":"M1","x":39,"y":1500},{"s":"M1","x":40,"y":1400},{"s":"M1","x":41,"y":1300},{"s":"M1","x":42,"y":1200},{"s":"M1","x":43,"y":1100},{"s":"M1","x":44,"y":1000},{"s":"M1","x":45,"y":900},{"s":"M1","x":46,"y":900},{"s":"M1","x":47,"y":800},{"s":"M1","x":48,"y":800},{"s":"M1","x":49,"y":700},{"s":"M1","x":50,"y":700},{"s":"M1","x":51,"y":600},{"s":"M1","x":52,"y":600},{"s":"M1","x":53,"y":500},{"s":"M1","x":54,"y":500},{"s":"M1","x":55,"y":500},{"s":"M1","x":56,"y":400},{"s":"M1","x":57,"y":400},
{"s":"C4","x":1,"y":0},{"s":"C4","x":2,"y":40},{"s":"C4","x":3,"y":80},{"s":"C4","x":4,"y":120},{"s":"C4","x":5,"y":160},{"s":"C4","x":6,"y":200},{"s":"C4","x":7,"y":250},{"s":"C4","x":8,"y":300},{"s":"C4","x":9,"y":350},{"s":"C4","x":10,"y":400},{"s":"C4","x":11,"y":450},{"s":"C4","x":12,"y":500},{"s":"C4","x":13,"y":550},{"s":"C4","x":14,"y":600},{"s":"C4","x":15,"y":650},{"s":"C4","x":16,"y":700},{"s":"C4","x":17,"y":750},{"s":"C4","x":18,"y":800},{"s":"C4","x":19,"y":850},{"s":"C4","x":20,"y":900},{"s":"C4","x":21,"y":950},{"s":"C4","x":22,"y":1000},{"s":"C4","x":23,"y":1050},{"s":"C4","x":24,"y":1100},{"s":"C4","x":25,"y":1150},{"s":"C4","x":26,"y":1200},{"s":"C4","x":27,"y":1250},{"s":"C4","x":28,"y":1300},{"s":"C4","x":29,"y":1350},{"s":"C4","x":30,"y":1400},{"s":"C4","x":31,"y":1500},{"s":"C4","x":32,"y":1400},{"s":"C4","x":33,"y":1600},{"s":"C4","x":34,"y":1500},{"s":"C4","x":35,"y":1700},{"s":"C4","x":36,"y":1600},{"s":"C4","x":37,"y":1800},{"s":"C4","x":38,"y":1700},{"s":"C4","x":39,"y":1900},{"s":"C4","x":40,"y":1800},{"s":"C4","x":41,"y":1950},{"s":"C4","x":42,"y":2000},{"s":"C4","x":43,"y":1800},{"s":"C4","x":44,"y":1500},{"s":"C4","x":45,"y":1800},{"s":"C4","x":46,"y":2000},{"s":"C4","x":47,"y":2500},{"s":"C4","x":48,"y":2500},{"s":"C4","x":49,"y":2800},{"s":"C4","x":50,"y":3400},{"s":"C4","x":51,"y":5250},{"s":"C4","x":52,"y":4500},{"s":"C4","x":53,"y":3000},{"s":"C4","x":54,"y":2000},{"s":"C4","x":55,"y":2400},{"s":"C4","x":56,"y":1600},{"s":"C4","x":57,"y":2200},
{"s":"C3","x":1,"y":0},{"s":"C3","x":2,"y":50},{"s":"C3","x":3,"y":100},{"s":"C3","x":4,"y":150},{"s":"C3","x":5,"y":200},{"s":"C3","x":6,"y":250},{"s":"C3","x":7,"y":300},{"s":"C3","x":8,"y":400},{"s":"C3","x":9,"y":500},{"s":"C3","x":10,"y":600},{"s":"C3","x":11,"y":700},{"s":"C3","x":12,"y":800},{"s":"C3","x":13,"y":900},{"s":"C3","x":14,"y":1000},{"s":"C3","x":15,"y":1100},{"s":"C3","x":16,"y":1200},{"s":"C3","x":17,"y":1300},{"s":"C3","x":18,"y":1400},{"s":"C3","x":19,"y":1500},{"s":"C3","x":20,"y":1600},{"s":"C3","x":21,"y":1700},{"s":"C3","x":22,"y":1800},{"s":"C3","x":23,"y":1900},{"s":"C3","x":24,"y":2000},{"s":"C3","x":25,"y":2100},{"s":"C3","x":26,"y":2200},{"s":"C3","x":27,"y":2300},{"s":"C3","x":28,"y":2200},{"s":"C3","x":29,"y":2100},{"s":"C3","x":30,"y":2000},{"s":"C3","x":31,"y":1900},{"s":"C3","x":32,"y":1800},{"s":"C3","x":33,"y":1700},{"s":"C3","x":34,"y":1600},{"s":"C3","x":35,"y":1500},{"s":"C3","x":36,"y":1600},{"s":"C3","x":37,"y":1500},{"s":"C3","x":38,"y":1400},{"s":"C3","x":39,"y":1400},{"s":"C3","x":40,"y":1500},{"s":"C3","x":41,"y":2000},{"s":"C3","x":42,"y":2500},{"s":"C3","x":43,"y":3000},{"s":"C3","x":44,"y":3500},{"s":"C3","x":45,"y":5000},{"s":"C3","x":46,"y":6500},{"s":"C3","x":47,"y":6800},{"s":"C3","x":48,"y":6900},{"s":"C3","x":49,"y":8750},{"s":"C3","x":50,"y":6000},{"s":"C3","x":51,"y":7300},{"s":"C3","x":52,"y":1600},{"s":"C3","x":53,"y":1200},{"s":"C3","x":54,"y":1000},{"s":"C3","x":55,"y":900},{"s":"C3","x":56,"y":800},{"s":"C3","x":57,"y":700},
{"s":"M3","x":1,"y":0},{"s":"M3","x":2,"y":50},{"s":"M3","x":3,"y":100},{"s":"M3","x":4,"y":150},{"s":"M3","x":5,"y":200},{"s":"M3","x":6,"y":300},{"s":"M3","x":7,"y":400},{"s":"M3","x":8,"y":500},{"s":"M3","x":9,"y":600},{"s":"M3","x":10,"y":700},{"s":"M3","x":11,"y":800},{"s":"M3","x":12,"y":900},{"s":"M3","x":13,"y":1000},{"s":"M3","x":14,"y":1100},{"s":"M3","x":15,"y":1200},{"s":"M3","x":16,"y":1400},{"s":"M3","x":17,"y":1600},{"s":"M3","x":18,"y":1800},{"s":"M3","x":19,"y":2000},{"s":"M3","x":20,"y":2200},{"s":"M3","x":21,"y":2400},{"s":"M3","x":22,"y":2600},{"s":"M3","x":23,"y":2500},{"s":"M3","x":24,"y":2700},{"s":"M3","x":25,"y":2900},{"s":"M3","x":26,"y":3000},{"s":"M3","x":27,"y":2800},{"s":"M3","x":28,"y":2600},{"s":"M3","x":29,"y":2400},{"s":"M3","x":30,"y":2000},{"s":"M3","x":31,"y":2200},{"s":"M3","x":32,"y":2000},{"s":"M3","x":33,"y":2300},{"s":"M3","x":34,"y":2500},{"s":"M3","x":35,"y":2800},{"s":"M3","x":36,"y":2400},{"s":"M3","x":37,"y":2200},{"s":"M3","x":38,"y":2500},{"s":"M3","x":39,"y":3500},{"s":"M3","x":40,"y":4500},{"s":"M3","x":41,"y":8000},{"s":"M3","x":42,"y":3700},{"s":"M3","x":43,"y":3250},{"s":"M3","x":44,"y":4500},{"s":"M3","x":45,"y":5500},{"s":"M3","x":46,"y":6400},{"s":"M3","x":47,"y":6500},{"s":"M3","x":48,"y":6900},{"s":"M3","x":49,"y":5100},{"s":"M3","x":50,"y":4300},{"s":"M3","x":51,"y":4200},{"s":"M3","x":52,"y":3700},{"s":"M3","x":53,"y":3300},{"s":"M3","x":54,"y":3500},{"s":"M3","x":55,"y":1700},{"s":"M3","x":56,"y":1800},{"s":"M3","x":57,"y":3000},
{"s":"M2","x":1,"y":0},{"s":"M2","x":2,"y":50},{"s":"M2","x":3,"y":100},{"s":"M2","x":4,"y":150},{"s":"M2","x":5,"y":200},{"s":"M2","x":6,"y":250},{"s":"M2","x":7,"y":300},{"s":"M2","x":8,"y":350},{"s":"M2","x":9,"y":400},{"s":"M2","x":10,"y":450},{"s":"M2","x":11,"y":500},{"s":"M2","x":12,"y":600},{"s":"M2","x":13,"y":700},{"s":"M2","x":14,"y":800},{"s":"M2","x":15,"y":900},{"s":"M2","x":16,"y":1000},{"s":"M2","x":17,"y":1100},{"s":"M2","x":18,"y":1200},{"s":"M2","x":19,"y":1300},{"s":"M2","x":20,"y":1400},{"s":"M2","x":21,"y":1500},{"s":"M2","x":22,"y":1600},{"s":"M2","x":23,"y":1500},{"s":"M2","x":24,"y":1700},{"s":"M2","x":25,"y":1600},{"s":"M2","x":26,"y":1800},{"s":"M2","x":27,"y":1700},{"s":"M2","x":28,"y":1900},{"s":"M2","x":29,"y":1800},{"s":"M2","x":30,"y":2000},{"s":"M2","x":31,"y":1900},{"s":"M2","x":32,"y":1800},{"s":"M2","x":33,"y":1700},{"s":"M2","x":34,"y":1600},{"s":"M2","x":35,"y":1500},{"s":"M2","x":36,"y":1400},{"s":"M2","x":37,"y":1300},{"s":"M2","x":38,"y":1200},{"s":"M2","x":39,"y":1300},{"s":"M2","x":40,"y":1500},{"s":"M2","x":41,"y":2000},{"s":"M2","x":42,"y":2500},{"s":"M2","x":43,"y":3000},{"s":"M2","x":44,"y":3300},{"s":"M2","x":45,"y":5000},{"s":"M2","x":46,"y":2500},{"s":"M2","x":47,"y":3600},{"s":"M2","x":48,"y":5000},{"s":"M2","x":49,"y":7100},{"s":"M2","x":50,"y":8700},{"s":"M2","x":51,"y":10000},{"s":"M2","x":52,"y":6100},{"s":"M2","x":53,"y":5750},{"s":"M2","x":54,"y":7700},{"s":"M2","x":55,"y":4900},{"s":"M2","x":56,"y":6100},{"s":"M2","x":57,"y":4400},
{"s":"K5","x":1,"y":0},{"s":"K5","x":2,"y":50},{"s":"K5","x":3,"y":100},{"s":"K5","x":4,"y":150},{"s":"K5","x":5,"y":200},{"s":"K5","x":6,"y":250},{"s":"K5","x":7,"y":300},{"s":"K5","x":8,"y":350},{"s":"K5","x":9,"y":400},{"s":"K5","x":10,"y":450},{"s":"K5","x":11,"y":500},{"s":"K5","x":12,"y":550},{"s":"K5","x":13,"y":600},{"s":"K5","x":14,"y":650},{"s":"K5","x":15,"y":700},{"s":"K5","x":16,"y":750},{"s":"K5","x":17,"y":800},{"s":"K5","x":18,"y":850},{"s":"K5","x":19,"y":900},{"s":"K5","x":20,"y":950},{"s":"K5","x":21,"y":1000},{"s":"K5","x":22,"y":1000},{"s":"K5","x":23,"y":1050},{"s":"K5","x":24,"y":1100},{"s":"K5","x":25,"y":1100},{"s":"K5","x":26,"y":1150},{"s":"K5","x":27,"y":1200},{"s":"K5","x":28,"y":1200},{"s":"K5","x":29,"y":1250},{"s":"K5","x":30,"y":1300},{"s":"K5","x":31,"y":1300},{"s":"K5","x":32,"y":1250},{"s":"K5","x":33,"y":1200},{"s":"K5","x":34,"y":1200},{"s":"K5","x":35,"y":1150},{"s":"K5","x":36,"y":1100},{"s":"K5","x":37,"y":1100},{"s":"K5","x":38,"y":1150},{"s":"K5","x":39,"y":1200},{"s":"K5","x":40,"y":1250},{"s":"K5","x":41,"y":1300},{"s":"K5","x":42,"y":1500},{"s":"K5","x":43,"y":1800},{"s":"K5","x":44,"y":2200},{"s":"K5","x":45,"y":2600},{"s":"K5","x":46,"y":3300},{"s":"K5","x":47,"y":4900},{"s":"K5","x":48,"y":7500},{"s":"K5","x":49,"y":6100},{"s":"K5","x":50,"y":9500},{"s":"K5","x":51,"y":14700},{"s":"K5","x":52,"y":17500},{"s":"K5","x":53,"y":15300},{"s":"K5","x":54,"y":18000},{"s":"K5","x":55,"y":17400},{"s":"K5","x":56,"y":16400},{"s":"K5","x":57,"y":17300},
{"s":"K1","x":1,"y":0},{"s":"K1","x":2,"y":100},{"s":"K1","x":3,"y":200},{"s":"K1","x":4,"y":300},{"s":"K1","x":5,"y":300},{"s":"K1","x":6,"y":400},{"s":"K1","x":7,"y":500},{"s":"K1","x":8,"y":500},{"s":"K1","x":9,"y":600},{"s":"K1","x":10,"y":700},{"s":"K1","x":11,"y":800},{"s":"K1","x":12,"y":900},{"s":"K1","x":13,"y":1000},{"s":"K1","x":14,"y":1100},{"s":"K1","x":15,"y":1100},{"s":"K1","x":16,"y":1200},{"s":"K1","x":17,"y":1300},{"s":"K1","x":18,"y":1400},{"s":"K1","x":19,"y":1500},{"s":"K1","x":20,"y":1500},{"s":"K1","x":21,"y":1600},{"s":"K1","x":22,"y":1700},{"s":"K1","x":23,"y":1700},{"s":"K1","x":24,"y":1800},{"s":"K1","x":25,"y":1900},{"s":"K1","x":26,"y":2000},{"s":"K1","x":27,"y":2100},{"s":"K1","x":28,"y":2200},{"s":"K1","x":29,"y":2300},{"s":"K1","x":30,"y":2200},{"s":"K1","x":31,"y":2100},{"s":"K1","x":32,"y":2000},{"s":"K1","x":33,"y":1900},{"s":"K1","x":34,"y":1800},{"s":"K1","x":35,"y":1700},{"s":"K1","x":36,"y":1600},{"s":"K1","x":37,"y":1500},{"s":"K1","x":38,"y":1500},{"s":"K1","x":39,"y":2200},{"s":"K1","x":40,"y":2500},{"s":"K1","x":41,"y":3000},{"s":"K1","x":42,"y":4500},{"s":"K1","x":43,"y":5800},{"s":"K1","x":44,"y":9500},{"s":"K1","x":45,"y":11500},{"s":"K1","x":46,"y":10800},{"s":"K1","x":47,"y":4500},{"s":"K1","x":48,"y":1200},{"s":"K1","x":49,"y":900},{"s":"K1","x":50,"y":800},{"s":"K1","x":51,"y":700},{"s":"K1","x":52,"y":600},{"s":"K1","x":53,"y":600},{"s":"K1","x":54,"y":500},{"s":"K1","x":55,"y":500},{"s":"K1","x":56,"y":400},{"s":"K1","x":57,"y":400},
{"s":"G1","x":1,"y":0},{"s":"G1","x":2,"y":100},{"s":"G1","x":3,"y":200},{"s":"G1","x":4,"y":300},{"s":"G1","x":5,"y":400},{"s":"G1","x":6,"y":500},{"s":"G1","x":7,"y":700},{"s":"G1","x":8,"y":900},{"s":"G1","x":9,"y":1000},{"s":"G1","x":10,"y":1100},{"s":"G1","x":11,"y":1300},{"s":"G1","x":12,"y":2200},{"s":"G1","x":13,"y":1600},{"s":"G1","x":14,"y":1700},{"s":"G1","x":15,"y":1900},{"s":"G1","x":16,"y":2000},{"s":"G1","x":17,"y":2200},{"s":"G1","x":18,"y":2300},{"s":"G1","x":19,"y":2500},{"s":"G1","x":20,"y":2700},{"s":"G1","x":21,"y":2600},{"s":"G1","x":22,"y":2400},{"s":"G1","x":23,"y":2500},{"s":"G1","x":24,"y":2300},{"s":"G1","x":25,"y":2600},{"s":"G1","x":26,"y":2800},{"s":"G1","x":27,"y":2500},{"s":"G1","x":28,"y":2200},{"s":"G1","x":29,"y":2400},{"s":"G1","x":30,"y":2500},{"s":"G1","x":31,"y":2300},{"s":"G1","x":32,"y":3000},{"s":"G1","x":33,"y":4000},{"s":"G1","x":34,"y":4900},{"s":"G1","x":35,"y":5500},{"s":"G1","x":36,"y":6000},{"s":"G1","x":37,"y":7000},{"s":"G1","x":38,"y":13300},{"s":"G1","x":39,"y":7800},{"s":"G1","x":40,"y":2600},{"s":"G1","x":41,"y":2000},{"s":"G1","x":42,"y":1700},{"s":"G1","x":43,"y":1500},{"s":"G1","x":44,"y":1300},{"s":"G1","x":45,"y":1200},{"s":"G1","x":46,"y":1000},{"s":"G1","x":47,"y":900},{"s":"G1","x":48,"y":900},{"s":"G1","x":49,"y":800},{"s":"G1","x":50,"y":700},{"s":"G1","x":51,"y":700},{"s":"G1","x":52,"y":600},{"s":"G1","x":53,"y":600},{"s":"G1","x":54,"y":500},{"s":"G1","x":55,"y":500},{"s":"G1","x":56,"y":500},{"s":"G1","x":57,"y":400},
{"s":"C2","x":1,"y":0},{"s":"C2","x":2,"y":100},{"s":"C2","x":3,"y":200},{"s":"C2","x":4,"y":600},{"s":"C2","x":5,"y":1200},{"s":"C2","x":6,"y":2100},{"s":"C2","x":7,"y":2300},{"s":"C2","x":8,"y":2700},{"s":"C2","x":9,"y":900},{"s":"C2","x":10,"y":800},{"s":"C2","x":11,"y":700},{"s":"C2","x":12,"y":800},{"s":"C2","x":13,"y":900},{"s":"C2","x":14,"y":800},{"s":"C2","x":15,"y":1000},{"s":"C2","x":16,"y":1100},{"s":"C2","x":17,"y":1200},{"s":"C2","x":18,"y":1300},{"s":"C2","x":19,"y":1500},{"s":"C2","x":20,"y":1200},{"s":"C2","x":21,"y":1400},{"s":"C2","x":22,"y":1500},{"s":"C2","x":23,"y":1600},{"s":"C2","x":24,"y":1800},{"s":"C2","x":25,"y":1500},{"s":"C2","x":26,"y":1700},{"s":"C2","x":27,"y":1800},{"s":"C2","x":28,"y":1500},{"s":"C2","x":29,"y":2000},{"s":"C2","x":30,"y":4000},{"s":"C2","x":31,"y":10000},{"s":"C2","x":32,"y":16800},{"s":"C2","x":33,"y":27000},{"s":"C2","x":34,"y":31800},{"s":"C2","x":35,"y":17400},{"s":"C2","x":36,"y":13000},{"s":"C2","x":37,"y":14800},{"s":"C2","x":38,"y":19300},{"s":"C2","x":39,"y":4100},{"s":"C2","x":40,"y":3000},{"s":"C2","x":41,"y":2500},{"s":"C2","x":42,"y":2000},{"s":"C2","x":43,"y":1500},{"s":"C2","x":44,"y":1300},{"s":"C2","x":45,"y":1200},{"s":"C2","x":46,"y":1100},{"s":"C2","x":47,"y":1000},{"s":"C2","x":48,"y":900},{"s":"C2","x":49,"y":900},{"s":"C2","x":50,"y":800},{"s":"C2","x":51,"y":800},{"s":"C2","x":52,"y":700},{"s":"C2","x":53,"y":700},{"s":"C2","x":54,"y":600},{"s":"C2","x":55,"y":600},{"s":"C2","x":56,"y":500},{"s":"C2","x":57,"y":500},
{"s":"B1","x":1,"y":100},{"s":"B1","x":2,"y":150},{"s":"B1","x":3,"y":200},{"s":"B1","x":4,"y":300},{"s":"B1","x":5,"y":400},{"s":"B1","x":6,"y":500},{"s":"B1","x":7,"y":600},{"s":"B1","x":8,"y":700},{"s":"B1","x":9,"y":800},{"s":"B1","x":10,"y":1000},{"s":"B1","x":11,"y":1300},{"s":"B1","x":12,"y":1600},{"s":"B1","x":13,"y":2000},{"s":"B1","x":14,"y":2600},{"s":"B1","x":15,"y":3300},{"s":"B1","x":16,"y":4600},{"s":"B1","x":17,"y":4900},{"s":"B1","x":18,"y":6000},{"s":"B1","x":19,"y":9400},{"s":"B1","x":20,"y":10700},{"s":"B1","x":21,"y":10700},{"s":"B1","x":22,"y":11000},{"s":"B1","x":23,"y":14000},{"s":"B1","x":24,"y":19800},{"s":"B1","x":25,"y":21000},{"s":"B1","x":26,"y":20400},{"s":"B1","x":27,"y":36900},{"s":"B1","x":28,"y":24400},{"s":"B1","x":29,"y":32500},{"s":"B1","x":30,"y":40800},{"s":"B1","x":31,"y":42300},{"s":"B1","x":32,"y":49000},{"s":"B1","x":33,"y":35500},{"s":"B1","x":34,"y":43100},{"s":"B1","x":35,"y":12200},{"s":"B1","x":36,"y":11300},{"s":"B1","x":37,"y":4300},{"s":"B1","x":38,"y":3800},{"s":"B1","x":39,"y":4200},{"s":"B1","x":40,"y":5800},{"s":"B1","x":41,"y":600},{"s":"B1","x":42,"y":500},{"s":"B1","x":43,"y":600},{"s":"B1","x":44,"y":500},{"s":"B1","x":45,"y":400},{"s":"B1","x":46,"y":500},{"s":"B1","x":47,"y":600},{"s":"B1","x":48,"y":500},{"s":"B1","x":49,"y":400},{"s":"B1","x":50,"y":500},{"s":"B1","x":51,"y":400},{"s":"B1","x":52,"y":500},{"s":"B1","x":53,"y":600},{"s":"B1","x":54,"y":500},{"s":"B1","x":55,"y":400},{"s":"B1","x":56,"y":600},{"s":"B1","x":57,"y":500},
{"s":"C1","x":1,"y":50},{"s":"C1","x":2,"y":100},{"s":"C1","x":3,"y":150},{"s":"C1","x":4,"y":200},{"s":"C1","x":5,"y":300},{"s":"C1","x":6,"y":400},{"s":"C1","x":7,"y":500},{"s":"C1","x":8,"y":500},{"s":"C1","x":9,"y":600},{"s":"C1","x":10,"y":700},{"s":"C1","x":11,"y":800},{"s":"C1","x":12,"y":900},{"s":"C1","x":13,"y":1000},{"s":"C1","x":14,"y":1100},{"s":"C1","x":15,"y":1200},{"s":"C1","x":16,"y":1400},{"s":"C1","x":17,"y":1500},{"s":"C1","x":18,"y":1500},{"s":"C1","x":19,"y":2500},{"s":"C1","x":20,"y":2000},{"s":"C1","x":21,"y":8200},{"s":"C1","x":22,"y":3700},{"s":"C1","x":23,"y":5300},{"s":"C1","x":24,"y":7500},{"s":"C1","x":25,"y":2200},{"s":"C1","x":26,"y":3300},{"s":"C1","x":27,"y":4100},{"s":"C1","x":28,"y":5100},{"s":"C1","x":29,"y":8500},{"s":"C1","x":30,"y":12400},{"s":"C1","x":31,"y":10750},{"s":"C1","x":32,"y":9300},{"s":"C1","x":33,"y":11000},{"s":"C1","x":34,"y":15250},{"s":"C1","x":35,"y":23250},{"s":"C1","x":36,"y":28700},{"s":"C1","x":37,"y":29900},{"s":"C1","x":38,"y":33500},{"s":"C1","x":39,"y":25100},{"s":"C1","x":40,"y":25800},{"s":"C1","x":41,"y":34100},{"s":"C1","x":42,"y":42800},{"s":"C1","x":43,"y":58600},{"s":"C1","x":44,"y":49600},{"s":"C1","x":45,"y":53300},{"s":"C1","x":46,"y":41700},{"s":"C1","x":47,"y":59100},{"s":"C1","x":48,"y":38000},{"s":"C1","x":49,"y":42300},{"s":"C1","x":50,"y":41400},{"s":"C1","x":51,"y":34000},{"s":"C1","x":52,"y":37100},{"s":"C1","x":53,"y":20500},{"s":"C1","x":54,"y":23200},{"s":"C1","x":55,"y":7200},{"s":"C1","x":56,"y":10700},{"s":"C1","x":57,"y":10700}
]},
"layer":[
{"mark":{"type":"line","strokeWidth":1.3},
 "encoding":{
  "x":{"field":"x","type":"quantitative","scale":{"domain":[0,60],"nice":false,"zero":false},
       "axis":{"orient":"bottom","values":[0,10,20,30,40,50,60],"tickSize":-6,"labelPadding":16,"title":null}},
  "y":{"field":"y","type":"quantitative","scale":{"domain":[0,60000],"nice":false},
       "axis":{"orient":"left","values":[0,10000,20000,30000,40000,50000,60000],"labelExpr":"datum.value/10000","tickSize":-6,"labelPadding":12,
               "title":"x 10","titleAngle":0,"titleX":0,"titleY":-9,"titleAlign":"left","titleBaseline":"alphabetic","titleFontSize":16,"titleFontWeight":"normal","titleColor":"#000"}},
  "color":{"field":"s","type":"nominal","legend":null,
   "scale":{"domain":["Y3","M4","C5","R3","G3","B3","Y2","R2","K3","G2","R1","B2","Y1","K4","K2","M1","C4","C3","M3","M2","K5","K1","G1","C2","B1","C1"],
            "range":["#BFBF00","#BF00BF","#00BFBF","#FF0000","#008000","#0000FF","#BFBF00","#FF0000","#404040","#008000","#FF0000","#0000FF","#BFBF00","#404040","#404040","#BF00BF","#00BFBF","#00BFBF","#BF00BF","#BF00BF","#404040","#404040","#008000","#00BFBF","#0000FF","#00BFBF"]}}
 }},
{"mark":{"type":"point","opacity":0},
 "encoding":{
  "x":{"field":"x","type":"quantitative","scale":{"domain":[0,60],"nice":false,"zero":false},
       "axis":{"orient":"top","values":[0,10,20,30,40,50,60],"tickSize":-6,"labels":false,"domain":false,"title":null}},
  "y":{"field":"y","type":"quantitative","scale":{"domain":[0,60000],"nice":false},
       "axis":{"orient":"right","values":[0,10000,20000,30000,40000,50000,60000],"tickSize":-6,"labels":false,"domain":false,"title":null}}
 }}
],
"resolve":{"axis":{"x":"independent","y":"independent"}}
}
